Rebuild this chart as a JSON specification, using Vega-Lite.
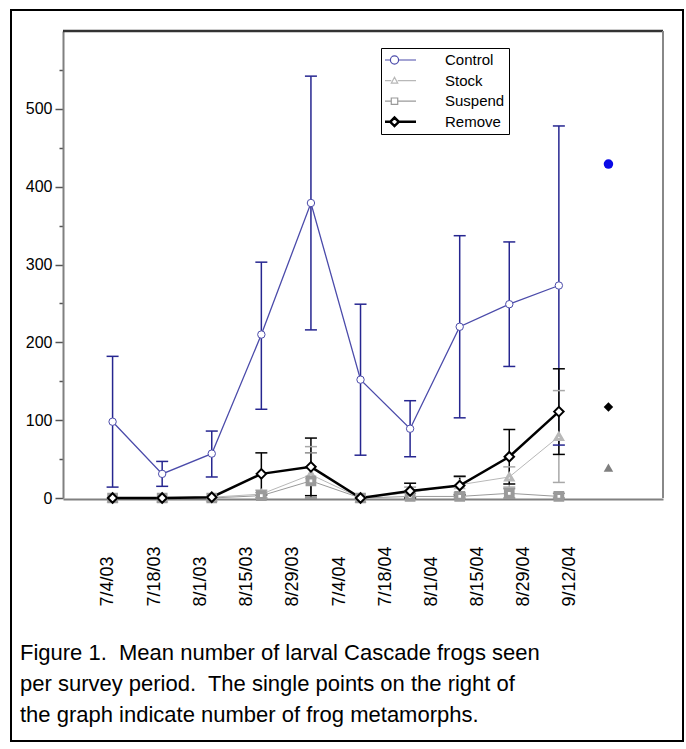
{
  "$schema": "https://vega.github.io/schema/vega-lite/v6.json",
  "width": 672,
  "height": 731,
  "autosize": {"type": "none"},
  "padding": {"left": 11, "top": 10, "right": 3, "bottom": 8},
  "background": "white",
  "config": {
    "font": "Liberation Sans",
    "view": {"stroke": "black", "strokeWidth": 2}
  },
  "title": {
    "text": [
      "Figure 1.\u00a0 Mean number of larval Cascade frogs seen",
      "per survey period.\u00a0 The single points on the right of",
      "the graph indicate number of frog metamorphs."
    ],
    "orient": "bottom",
    "anchor": "start",
    "frame": "group",
    "offset": -98,
    "dx": 9,
    "baseline": "top",
    "font": "Liberation Sans",
    "fontSize": 22,
    "fontWeight": "normal",
    "lineHeight": 31,
    "color": "black"
  },
  "datasets": {
    "larvae": [
      {"series": "Control", "period": 1, "mean": 98, "lo": 14, "hi": 182},
      {"series": "Control", "period": 2, "mean": 31, "lo": 15, "hi": 47},
      {"series": "Control", "period": 3, "mean": 57, "lo": 27, "hi": 86},
      {"series": "Control", "period": 4, "mean": 210, "lo": 114, "hi": 303},
      {"series": "Control", "period": 5, "mean": 379, "lo": 216, "hi": 542},
      {"series": "Control", "period": 6, "mean": 152, "lo": 55, "hi": 249},
      {"series": "Control", "period": 7, "mean": 89, "lo": 53, "hi": 125},
      {"series": "Control", "period": 8, "mean": 220, "lo": 103, "hi": 337},
      {"series": "Control", "period": 9, "mean": 249, "lo": 169, "hi": 329},
      {"series": "Control", "period": 10, "mean": 273, "lo": 68, "hi": 478},
      {"series": "Stock", "period": 1, "mean": 0, "lo": null, "hi": null},
      {"series": "Stock", "period": 2, "mean": 0, "lo": null, "hi": null},
      {"series": "Stock", "period": 3, "mean": 1, "lo": null, "hi": null},
      {"series": "Stock", "period": 4, "mean": 5, "lo": 0, "hi": 10},
      {"series": "Stock", "period": 5, "mean": 30, "lo": 0, "hi": 66},
      {"series": "Stock", "period": 6, "mean": 0, "lo": null, "hi": null},
      {"series": "Stock", "period": 7, "mean": 7, "lo": 1, "hi": 14},
      {"series": "Stock", "period": 8, "mean": 17, "lo": 7, "hi": 27},
      {"series": "Stock", "period": 9, "mean": 27, "lo": 14, "hi": 40},
      {"series": "Stock", "period": 10, "mean": 79, "lo": 20, "hi": 138},
      {"series": "Suspend", "period": 1, "mean": 0, "lo": null, "hi": null},
      {"series": "Suspend", "period": 2, "mean": 0, "lo": null, "hi": null},
      {"series": "Suspend", "period": 3, "mean": 0, "lo": null, "hi": null},
      {"series": "Suspend", "period": 4, "mean": 3, "lo": 0, "hi": 7},
      {"series": "Suspend", "period": 5, "mean": 22, "lo": 0, "hi": 58},
      {"series": "Suspend", "period": 6, "mean": 0, "lo": null, "hi": null},
      {"series": "Suspend", "period": 7, "mean": 2, "lo": 0, "hi": 6},
      {"series": "Suspend", "period": 8, "mean": 2, "lo": 0, "hi": 5},
      {"series": "Suspend", "period": 9, "mean": 6, "lo": 0, "hi": 12},
      {"series": "Suspend", "period": 10, "mean": 2, "lo": 0, "hi": 6},
      {"series": "Remove", "period": 1, "mean": 0, "lo": null, "hi": null},
      {"series": "Remove", "period": 2, "mean": 0, "lo": null, "hi": null},
      {"series": "Remove", "period": 3, "mean": 1, "lo": null, "hi": null},
      {"series": "Remove", "period": 4, "mean": 31, "lo": 4, "hi": 58},
      {"series": "Remove", "period": 5, "mean": 40, "lo": 3, "hi": 77},
      {"series": "Remove", "period": 6, "mean": 0, "lo": null, "hi": null},
      {"series": "Remove", "period": 7, "mean": 9, "lo": 0, "hi": 19},
      {"series": "Remove", "period": 8, "mean": 16, "lo": 4, "hi": 28},
      {"series": "Remove", "period": 9, "mean": 53, "lo": 18, "hi": 88},
      {"series": "Remove", "period": 10, "mean": 111, "lo": 56, "hi": 166}
    ],
    "metamorphs": [
      {"series": "Control", "metamorphs": 429},
      {"series": "Remove", "metamorphs": 117},
      {"series": "Stock", "metamorphs": 39}
    ]
  },
  "layer": [
    {
      "data": {"values": [{}]},
      "mark": {"type": "rule", "color": "#333333", "strokeWidth": 2.5},
      "encoding": {
        "x": {"datum": 0, "type": "quantitative"},
        "x2": {"datum": 12.1},
        "y": {"datum": 600, "type": "quantitative"}
      }
    },
    {
      "data": {"values": [{}]},
      "mark": {"type": "rule", "color": "#888888", "strokeWidth": 2},
      "encoding": {
        "x": {"datum": 12.1, "type": "quantitative"},
        "y": {"datum": 0, "type": "quantitative"},
        "y2": {"datum": 600}
      }
    },
    {
      "data": {"name": "larvae"},
      "mark": {"type": "rule", "strokeWidth": 1.5},
      "encoding": {
        "x": {"field": "period", "type": "quantitative"},
        "y": {"field": "lo", "type": "quantitative"},
        "y2": {"field": "hi"},
        "stroke": {
          "field": "series",
          "type": "nominal",
          "scale": {"domain": ["Remove", "Suspend", "Stock", "Control"], "range": ["#000000", "#8c8c8c", "#a8a8a8", "#262690"]},
          "legend": null
        }
      }
    },
    {
      "data": {"name": "larvae"},
      "mark": {"type": "point", "shape": "stroke", "size": 144, "strokeWidth": 1.5, "filled": false, "opacity": 1},
      "encoding": {
        "x": {"field": "period", "type": "quantitative"},
        "y": {"field": "lo", "type": "quantitative"},
        "stroke": {"field": "series", "type": "nominal", "legend": null}
      }
    },
    {
      "data": {"name": "larvae"},
      "mark": {"type": "point", "shape": "stroke", "size": 144, "strokeWidth": 1.5, "filled": false, "opacity": 1},
      "encoding": {
        "x": {"field": "period", "type": "quantitative"},
        "y": {"field": "hi", "type": "quantitative"},
        "stroke": {"field": "series", "type": "nominal", "legend": null}
      }
    },
    {
      "data": {"name": "larvae"},
      "mark": {"type": "line"},
      "encoding": {
        "x": {
          "field": "period",
          "type": "quantitative",
          "scale": {"domain": [0, 12.1], "range": [52, 652], "nice": false, "zero": false},
          "axis": {
            "title": null,
            "values": [0.907, 1.839, 2.771, 3.702, 4.634, 5.566, 6.497, 7.429, 8.361, 9.292, 10.224],
            "labelExpr": "['7/4/03','7/18/03','8/1/03','8/15/03','8/29/03','7/4/04','7/18/04','8/1/04','8/15/04','8/29/04','9/12/04'][round((datum.value-0.907)/0.9317)]",
            "labelAngle": 270,
            "labelAlign": "left",
            "labelBaseline": "middle",
            "labelPadding": 107,
            "ticks": false,
            "tickSize": 0,
            "grid": false,
            "domainColor": "#808080",
            "domainWidth": 2,
            "labelFont": "Liberation Sans",
            "labelFontSize": 18,
            "labelColor": "black",
            "labelOverlap": false,
            "labelFlush": false,
            "offset": -242
          }
        },
        "y": {
          "field": "mean",
          "type": "quantitative",
          "scale": {"domain": [0, 600], "range": [488, 21], "nice": false},
          "axis": {
            "title": null,
            "values": [0, 50, 100, 150, 200, 250, 300, 350, 400, 450, 500, 550],
            "labelExpr": "datum.value % 100 === 0 ? datum.label : ''",
            "grid": false,
            "domainColor": "#808080",
            "domainWidth": 2,
            "tickColor": "#555555",
            "tickWidth": 1.5,
            "tickSize": {"condition": {"test": "datum.value % 100 === 0", "value": 8}, "value": 4},
            "labelFont": "Liberation Sans",
            "labelFontSize": 16,
            "labelColor": "black",
            "labelPadding": 3,
            "offset": -52
          }
        },
        "color": {
          "field": "series",
          "type": "nominal",
          "scale": {"domain": ["Control", "Stock", "Suspend", "Remove"], "range": ["#4b4baa", "#b8b8b8", "#9a9a9a", "#000000"]},
          "legend": {
            "title": null,
            "orient": "none",
            "legendX": 370,
            "legendY": 38,
            "strokeColor": "black",
            "fillColor": "white",
            "padding": 4,
            "symbolOffset": 2,
            "symbolSize": 1849,
            "clipHeight": 16,
            "rowPadding": 4.6,
            "labelOffset": 43,
            "labelFont": "Liberation Sans",
            "labelFontSize": 15,
            "labelColor": "black",
            "encode": {
              "symbols": {
                "update": {
                  "shape": {"signal": "datum.value === 'Control' ? 'M-1,0H-0.19M0.19,0H1M-0.19,0A0.19,0.19,0,1,0,0.19,0A0.19,0.19,0,1,0,-0.19,0Z' : datum.value === 'Stock' ? 'M-1,0H-0.15M0.15,0H1M-0.15,0.12L0,-0.16L0.15,0.12Z' : datum.value === 'Suspend' ? 'M-1,0H-0.15M0.15,0H1M-0.15,-0.15H0.15V0.15H-0.15Z' : 'M-1,0H-0.2M0.2,0H1M-0.2,0L0,-0.2L0.2,0L0,0.2Z'"},
                  "size": {"value": 1849},
                  "fill": {"value": "white"},
                  "stroke": {"signal": "datum.value === 'Control' ? '#4b4baa' : datum.value === 'Stock' ? '#b0b0b0' : datum.value === 'Suspend' ? '#9a9a9a' : '#000000'"},
                  "strokeWidth": {"signal": "datum.value === 'Remove' ? 2.5 : 1.2"},
                  "opacity": {"value": 1}
                }
              }
            }
          }
        },
        "strokeWidth": {
          "field": "series",
          "type": "nominal",
          "scale": {"type": "ordinal", "domain": ["Remove", "Suspend", "Stock", "Control"], "range": [2.5, 1, 1, 1.3]},
          "legend": null
        }
      }
    },
    {
      "data": {"name": "larvae"},
      "mark": {"type": "point", "filled": false, "fill": "white", "opacity": 1},
      "encoding": {
        "x": {"field": "period", "type": "quantitative"},
        "y": {"field": "mean", "type": "quantitative"},
        "color": {
          "field": "series",
          "type": "nominal",
          "legend": {
            "title": null,
            "orient": "none",
            "legendX": 370,
            "legendY": 38,
            "strokeColor": "black",
            "fillColor": "white",
            "padding": 4,
            "symbolOffset": 2,
            "symbolSize": 1849,
            "clipHeight": 16,
            "rowPadding": 4.6,
            "labelOffset": 43,
            "labelFont": "Liberation Sans",
            "labelFontSize": 15,
            "labelColor": "black",
            "encode": {
              "symbols": {
                "update": {
                  "shape": {"signal": "datum.value === 'Control' ? 'M-1,0H-0.19M0.19,0H1M-0.19,0A0.19,0.19,0,1,0,0.19,0A0.19,0.19,0,1,0,-0.19,0Z' : datum.value === 'Stock' ? 'M-1,0H-0.15M0.15,0H1M-0.15,0.12L0,-0.16L0.15,0.12Z' : datum.value === 'Suspend' ? 'M-1,0H-0.15M0.15,0H1M-0.15,-0.15H0.15V0.15H-0.15Z' : 'M-1,0H-0.2M0.2,0H1M-0.2,0L0,-0.2L0.2,0L0,0.2Z'"},
                  "size": {"value": 1849},
                  "fill": {"value": "white"},
                  "stroke": {"signal": "datum.value === 'Control' ? '#4b4baa' : datum.value === 'Stock' ? '#b0b0b0' : datum.value === 'Suspend' ? '#9a9a9a' : '#000000'"},
                  "strokeWidth": {"signal": "datum.value === 'Remove' ? 2.5 : 1.2"},
                  "opacity": {"value": 1}
                }
              }
            }
          }
        },
        "shape": {
          "field": "series",
          "type": "nominal",
          "scale": {"domain": ["Remove", "Suspend", "Stock", "Control"], "range": ["diamond", "square", "triangle-up", "circle"]},
          "legend": null
        },
        "size": {
          "field": "series",
          "type": "nominal",
          "scale": {"type": "ordinal", "domain": ["Remove", "Suspend", "Stock", "Control"], "range": [90, 45, 50, 55]},
          "legend": null
        },
        "strokeWidth": {"field": "series", "type": "nominal", "legend": null}
      }
    },
    {
      "data": {"name": "metamorphs"},
      "mark": {"type": "point", "filled": true, "opacity": 1, "size": 90},
      "encoding": {
        "x": {"datum": 11, "type": "quantitative"},
        "y": {"field": "metamorphs", "type": "quantitative"},
        "shape": {"field": "series", "type": "nominal", "legend": null},
        "fill": {
          "field": "series",
          "type": "nominal",
          "scale": {"domain": ["Control", "Stock", "Remove"], "range": ["#0a0ae6", "#7f7f7f", "#000000"]},
          "legend": null
        }
      }
    }
  ]
}
